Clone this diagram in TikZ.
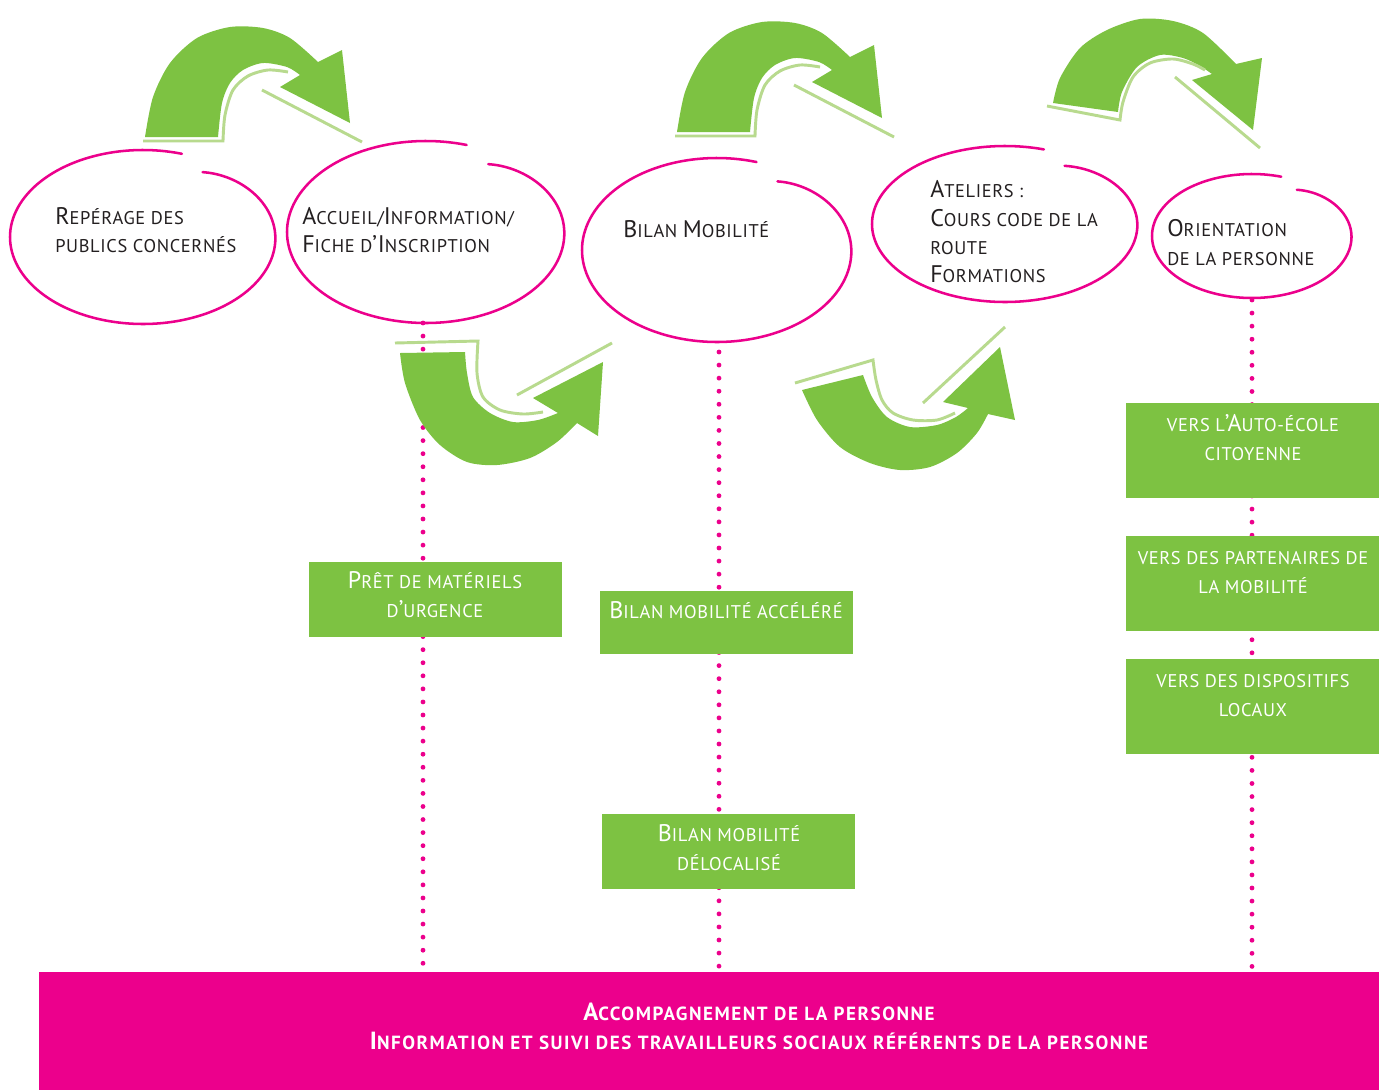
\documentclass[tikz,border=0pt]{standalone}
\usepackage{fontspec}
\setmainfont[LetterSpace=3.5]{PT Sans}
\newfontfamily\barfont[LetterSpace=8]{PT Sans}
\definecolor{pinkc}{HTML}{EC008C}
\definecolor{greenc}{HTML}{7DC242}
\definecolor{liteg}{HTML}{B8DA8E}
\definecolor{textc}{HTML}{231F20}
\newcommand\C[1]{{\fontsize{18pt}{21.75pt}\selectfont #1}}
\newcommand\CB[1]{{\fontsize{18.6pt}{21.75pt}\selectfont #1}}
\newcommand\fs{\fontsize{13.8pt}{21.75pt}\selectfont}
\newcommand\fsb{\fontsize{14.3pt}{21.75pt}\selectfont}
\newcommand\handell[4]{%
  \draw[ell] plot[domain=-59:287, samples=140, smooth, variable=\t]
   ({#1+#3*(1-0.13*exp(-(\t+59)/18))*cos(\t)},{#2+#4*(1-0.13*exp(-(\t+59)/18))*sin(\t)});}
\newcommand\arrowTop{%
  \fill[greenc] (145,137) -- plot[smooth] coordinates {(145,137) (153,97) (170,63) (197,38) (230,27) (263,28) (290,38) (318,62)}
     -- (342,50) -- (350,123) -- (280,87)
     -- plot[smooth] coordinates {(300,75) (287,67) (263,63) (243,70) (230,83) (222,103) (218,137)} -- cycle;
  \draw[lite] (143,141) -- plot[smooth] coordinates {(223,141) (225,115) (233,90) (248,76) (268,70) (288,72)};
  \draw[lite] (262,90) -- (362,142);}
\begin{document}
\begin{tikzpicture}[x=0.75pt,y=-0.75pt,
  ell/.style={draw=pinkc, line width=1.9pt, line cap=round},
  dots/.style={draw=pinkc, line width=3.6pt, line cap=round, dash pattern=on 0pt off 9.8pt},
  lite/.style={draw=liteg, line width=2.2pt},
  gbox/.style={fill=greenc, draw=none, inner sep=0pt, anchor=north west, minimum width=189.75pt},
  tx/.style={text=textc, inner sep=0pt, anchor=base west, font=\fs},
  wt/.style={text=white, inner sep=0pt, anchor=base, font=\fs},
  bt/.style={text=white, inner sep=0pt, anchor=base, font=\barfont\fsb\bfseries}]
\useasboundingbox (0,0) rectangle (1379,1090);
\fill[white] (0,0) rectangle (1379,1090);

% bottom bar
\node[fill=pinkc, inner sep=0pt, anchor=north west, minimum width=1005pt, minimum height=88.5pt] (bar) at (39,972) {};

% dotted connectors
\coordinate (d2) at (423,323);
\coordinate (d3) at (719,352);
\coordinate (d5) at (1252,300);
\draw[dots] (d2) -- (d2 |- bar.north);
\draw[dots] (d3) -- (d3 |- bar.north);
\draw[dots] (d5) -- (d5 |- bar.north);

% hand drawn ellipses
\handell{143}{237}{133}{87}
\handell{426}{232}{139}{91}
\handell{717}{250}{135}{92}
\handell{1005}{224}{133}{78}
\handell{1252}{236}{100}{62}

% arrows
\arrowTop
\begin{scope}[shift={(532,-5)}]\arrowTop\end{scope}

% arrow E
\fill[greenc] (1053,103) -- plot[smooth] coordinates {(1053,103) (1060,78) (1080,48) (1107,30) (1140,19) (1173,21) (1203,33) (1236,64)}
   -- (1262,58) -- (1253,130) -- (1192,80)
   -- plot[smooth] coordinates {(1212,74) (1200,66) (1183,58) (1160,55) (1137,67) (1122,92) (1118,112)} -- cycle;
\draw[lite] (1047,106) -- plot[smooth] coordinates {(1120,120) (1123,102) (1133,77) (1150,63) (1173,59) (1193,64) (1205,70)};
\draw[lite] (1175,77) -- (1260,148);

% arrow B
\fill[greenc] (400,353) -- (465,352) -- plot[smooth] coordinates {(465,352) (467,373) (473,397) (490,413) (513,422) (538,420) (558,413)}
   -- (533,398) -- (603,362) -- (598,436) -- (577,423)
   -- plot[smooth] coordinates {(577,423) (557,442) (530,458) (497,465) (467,462) (440,445) (420,420) (405,383) (400,353)} -- cycle;
\draw[lite] (395,343) -- plot[smooth] coordinates {(478,341) (477,373) (483,397) (500,410) (523,414) (543,412)};
\draw[lite] (517,395) -- (612,343);

% arrow D
\fill[greenc] (802,390) -- (863,375) -- plot[smooth] coordinates {(863,375) (872,397) (887,417) (910,427) (937,425) (956,417) (968,408)}
   -- (943,402) -- (1000,347) -- (1015,420) -- (988,414)
   -- plot[smooth] coordinates {(988,414) (977,433) (957,453) (930,467) (900,470) (870,463) (840,447) (817,420) (802,390)} -- cycle;
\draw[lite] (795,383) -- plot[smooth] coordinates {(873,360) (876,380) (882,400) (893,413) (913,420) (937,420) (955,413)};
\draw[lite] (923,403) -- (1005,327);

% ellipse texts
\node[tx] (e1a) at (55,224) {\C{R}EPÉRAGE DES};
\node[tx] (e1b) at (55,252) {PUBLICS CONCERNÉS};
\node[tx] (e2a) at (302,224) {\C{A}CCUEIL/\C{I}NFORMATION/};
\node[tx] (e2b) at (302,252) {\C{F}ICHE D\C{’I}NSCRIPTION};
\node[tx] (e3a) at (623,237) {\C{B}ILAN \C{M}OBILITÉ};
\node[tx] (e4a) at (930,197) {\C{A}TELIERS :};
\node[tx] (e4b) at (930,226) {\C{C}OURS CODE DE LA};
\node[tx] (e4c) at (930,254) {ROUTE};
\node[tx] (e4d) at (930,282) {\C{F}ORMATIONS};
\node[tx] (e5a) at (1167,236) {\C{O}RIENTATION};
\node[tx] (e5b) at (1167,265) {DE LA PERSONNE};

% green boxes
\node[gbox, minimum height=56.25pt] (b1) at (309,562) {};
\node[gbox, minimum height=47.25pt] (b2) at (600,591) {};
\node[gbox, minimum height=56.25pt] (b3) at (602,814) {};
\node[gbox, minimum height=71.25pt] (b4) at (1126,403) {};
\node[gbox, minimum height=71.25pt] (b5) at (1126,536) {};
\node[gbox, minimum height=71.25pt] (b6) at (1126,659) {};

\node[wt] (t1a) at (435,588) {\C{P}RÊT DE MATÉRIELS};
\node[wt] (t1b) at (435,617) {D\C{’}URGENCE};
\node[wt] (t2a) at (726,618) {\C{B}ILAN MOBILITÉ ACCÉLÉRÉ};
\node[wt] (t3a) at (729,841) {\C{B}ILAN MOBILITÉ};
\node[wt] (t3b) at (729,870) {DÉLOCALISÉ};
\node[wt] (t4a) at (1253,431) {VERS L\C{’A}UTO-ÉCOLE};
\node[wt] (t4b) at (1253,460) {CITOYENNE};
\node[wt] (t5a) at (1253,564) {VERS DES PARTENAIRES DE};
\node[wt] (t5b) at (1253,593) {LA MOBILITÉ};
\node[wt] (t6a) at (1253,687) {VERS DES DISPOSITIFS};
\node[wt] (t6b) at (1253,716) {LOCAUX};

% bar texts
\node[bt] (ba) at (759,1020) {\CB{A}CCOMPAGNEMENT DE LA PERSONNE};
\node[bt] (bb) at (759,1049) {\CB{I}NFORMATION ET SUIVI DES TRAVAILLEURS SOCIAUX RÉFÉRENTS DE LA PERSONNE};
\end{tikzpicture}
\end{document}
